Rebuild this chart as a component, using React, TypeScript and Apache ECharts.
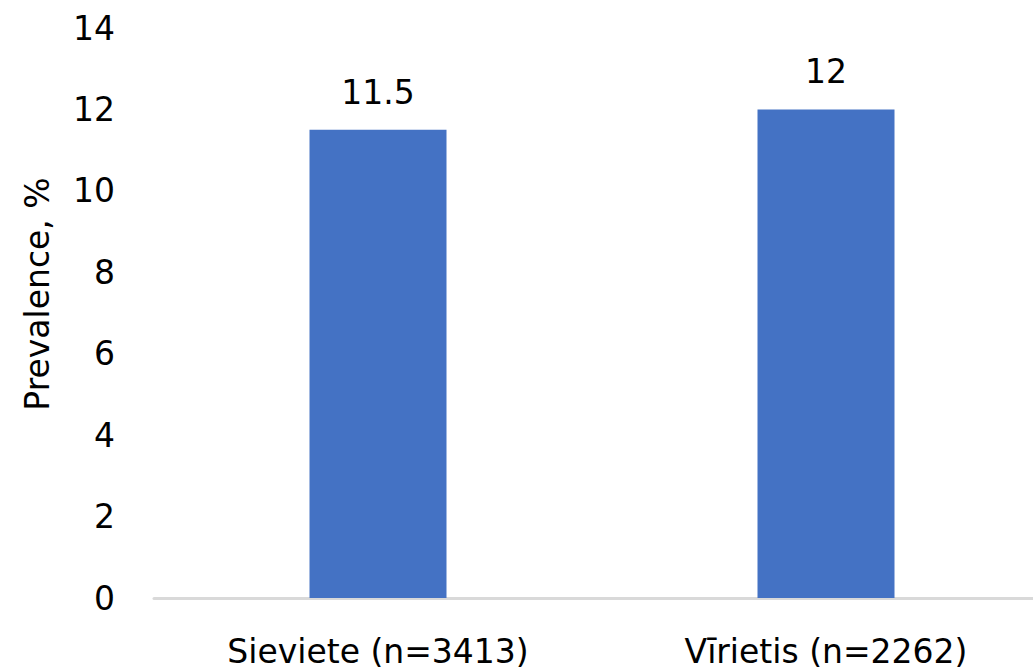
import React, { useEffect, useRef } from "react";
import * as echarts from "echarts";

const categories = ["Sieviete (n=3413)", "Vīrietis (n=2262)"];
const values = [11.5, 12];
const yTicks = { min: 0, max: 14, interval: 2 };
const yAxisTitle = "Prevalence, %";

const FONT = "'DejaVu Sans', sans-serif";
const FS = 33;

export default function App() {
  const ref = useRef<HTMLDivElement>(null);
  useEffect(() => {
    if (!ref.current) return;
    const chart = echarts.init(ref.current, undefined, { renderer: "svg" });
    chart.setOption({
      animation: false,
      backgroundColor: "#ffffff",
      grid: { left: 154, right: 0, top: 28, bottom: 73, containLabel: false },
      xAxis: {
        type: "category",
        data: categories,
        axisLine: { show: true, lineStyle: { color: "#d9d9d9", width: 3 } },
        axisTick: { show: false },
        axisLabel: { color: "#000", fontSize: FS, fontFamily: FONT, margin: 37 },
      },
      yAxis: {
        type: "value",
        min: yTicks.min,
        max: yTicks.max,
        interval: yTicks.interval,
        splitLine: { show: false },
        axisLine: { show: false },
        axisTick: { show: false },
        axisLabel: { color: "#000", fontSize: FS, fontFamily: FONT, margin: 39 },
      },
      graphic: [
        {
          type: "text",
          x: 37,
          y: 294,
          rotation: Math.PI / 2,
          style: {
            text: yAxisTitle,
            fill: "#000",
            font: `${FS}px ${FONT}`,
            textAlign: "center",
            textVerticalAlign: "middle",
          },
        },
      ],
      series: [
        {
          type: "bar",
          data: values,
          barWidth: 137,
          itemStyle: { color: "#4472C4" },
          label: {
            show: true,
            position: "top",
            distance: 21,
            color: "#000",
            fontSize: FS,
            fontFamily: FONT,
          },
        },
      ],
    });
    return () => chart.dispose();
  }, []);
  return (
    <div style={{ position: "fixed", left: 0, top: 0, width: 1033, height: 671, overflow: "hidden" }}>
      <div ref={ref} style={{ position: "absolute", left: 0, top: 0, width: 1050, height: 671 }} />
    </div>
  );
}
